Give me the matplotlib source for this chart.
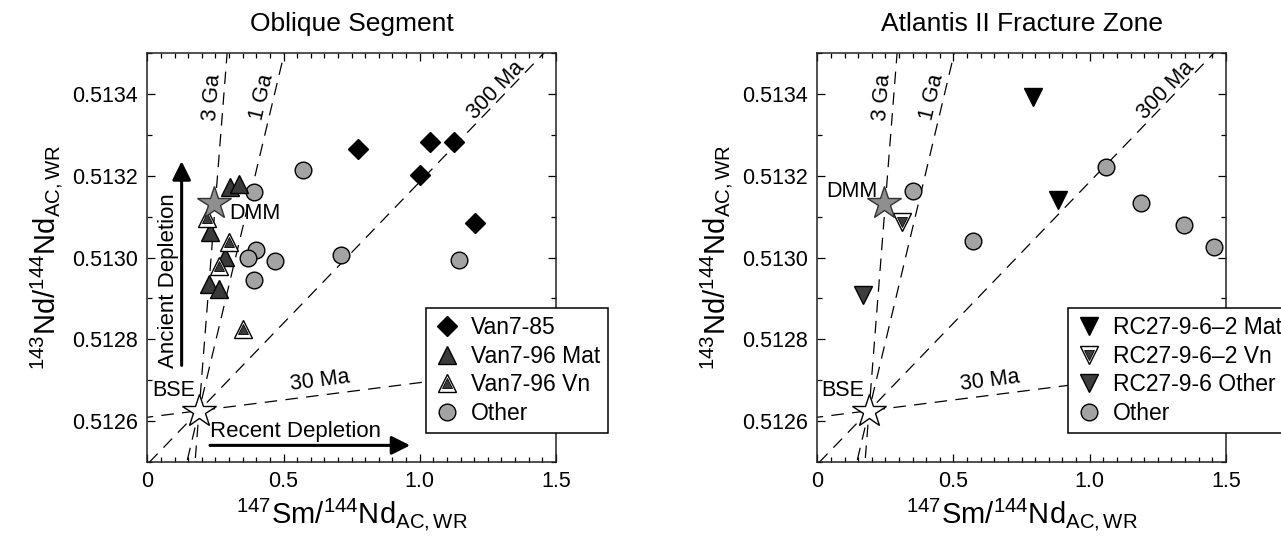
import numpy as np
import matplotlib
matplotlib.use('Agg')
import matplotlib.pyplot as plt
from matplotlib.legend_handler import HandlerTuple
from matplotlib.ticker import MultipleLocator, FuncFormatter

plt.rcParams['font.family'] = ['Liberation Sans', 'DejaVu Sans']
plt.rcParams['mathtext.fontset'] = 'custom'
plt.rcParams['mathtext.rm'] = 'Liberation Sans'
plt.rcParams['mathtext.it'] = 'Liberation Sans:italic'
plt.rcParams['lines.scale_dashes'] = False

# reference reservoirs (147Sm/144Nd, 143Nd/144Nd)
bse = (0.19, 0.512625)
dmm = (0.245, 0.513134)

# depletion isochrons through BSE
iso_labels = ['3 Ga', '1 Ga', '300 Ma', '30 Ma']
iso_slopes = [0.00851, 0.00280, 0.000692, 0.0000848]
iso_text_x = [0.237, 0.421, 1.281, 0.633]
iso_text_y = [0.513393, 0.513393, 0.51341, 0.512699]

# Oblique Segment
van785_x = [0.775, 1.038, 1.126, 1.001, 1.203]
van785_y = [0.513265, 0.513284, 0.513284, 0.513202, 0.513085]
van796mat_x = [0.303, 0.337, 0.230, 0.285, 0.226, 0.263]
van796mat_y = [0.513174, 0.513180, 0.513063, 0.513002, 0.512936, 0.512924]
van796vn_x = [0.218, 0.300, 0.263, 0.352]
van796vn_y = [0.513096, 0.513037, 0.512979, 0.512824]
obl_other_x = [0.392, 0.570, 0.398, 0.371, 0.469, 0.392, 0.711, 1.144]
obl_other_y = [0.513161, 0.513214, 0.513018, 0.512999, 0.512991, 0.512945, 0.513006, 0.512994]

# Atlantis II Fracture Zone
rcmat_x = [0.793, 0.882]
rcmat_y = [0.513393, 0.513142]
rcvn_x = [0.310]
rcvn_y = [0.513088]
rcoth_x = [0.169]
rcoth_y = [0.512908]
aii_other_x = [0.352, 0.570, 1.060, 1.188, 1.347, 1.457]
aii_other_y = [0.513164, 0.513041, 0.513223, 0.513133, 0.513080, 0.513025]

FS = 15.5
LEG_FS = 16.5
fig = plt.figure(figsize=(12.81, 5.40), dpi=100)
ax1 = fig.add_axes([0.115, 0.145, 0.319, 0.756])
ax2 = fig.add_axes([0.638, 0.145, 0.319, 0.756])

circle = dict(marker='o', ms=12, mfc='#a3a3a3', mec='k', mew=1.0, ls='none', zorder=4)


def vein_handles(ax, x, y, marker):
    outer = ax.plot(x, y, marker=marker, ms=13.5, mfc='white', mec='k', mew=1.0, ls='none', zorder=5)[0]
    inner = ax.plot(x, y, marker=marker, ms=7.5, mfc='#3a3a3a', mec='k', mew=0.6, ls='none', zorder=6)[0]
    return (outer, inner)


def base(ax, title):
    xs = np.array([-0.1, 1.6])
    for lab, s, tx, ty in zip(iso_labels, iso_slopes, iso_text_x, iso_text_y):
        ax.plot(xs, bse[1] + s * (xs - bse[0]), color='k', lw=0.9, dashes=(9, 6), zorder=1)
        ax.text(tx, ty, lab, fontsize=FS, rotation=np.degrees(np.arctan(s)),
                transform_rotates_text=True, rotation_mode='anchor',
                ha='center', va='center', zorder=2)
    ax.plot(*dmm, marker='*', ms=25, mfc='#8f8f8f', mec='#333333', mew=1.0, ls='none', zorder=7)
    ax.plot(*bse, marker='*', ms=25, mfc='white', mec='k', mew=1.0, ls='none', zorder=7)
    ax.text(0.095, 0.512675, 'BSE', fontsize=FS, ha='center', va='center', zorder=8)

    ax.set_xlim(0, 1.5)
    ax.set_ylim(0.5125, 0.5135)
    ax.xaxis.set_major_locator(MultipleLocator(0.5))
    ax.xaxis.set_minor_locator(MultipleLocator(0.05))
    ax.yaxis.set_major_locator(MultipleLocator(0.0002))
    ax.yaxis.set_minor_locator(MultipleLocator(0.0001))
    ax.xaxis.set_major_formatter(FuncFormatter(lambda v, p: '0' if abs(v) < 1e-9 else f'{v:.1f}'))
    ax.yaxis.set_major_formatter(FuncFormatter(lambda v, p: f'{v:.4f}'))
    ax.tick_params(which='both', direction='in', top=True, right=True, labelsize=FS, pad=7)
    ax.tick_params(which='major', length=5.5, width=0.9)
    ax.tick_params(which='minor', length=3.5, width=0.9)
    for sp in ax.spines.values():
        sp.set_linewidth(1.1)
        sp.set_color('#222222')
    ax.set_title(title, fontsize=19, pad=16)
    ax.set_xlabel(r'$^{147}$Sm/$^{144}$Nd$_{\mathrm{AC,WR}}$', fontsize=21, labelpad=3)
    ax.set_ylabel(r'$^{143}$Nd/$^{144}$Nd$_{\mathrm{AC,WR}}$', fontsize=21, labelpad=5)


def add_legend(ax, handles, labels, x0):
    leg = ax.legend(handles, labels,
                    handler_map={tuple: HandlerTuple(ndivide=1, pad=0)},
                    loc='lower left', bbox_to_anchor=(x0, 0.070), fontsize=LEG_FS,
                    frameon=True, fancybox=False, edgecolor='k', framealpha=1,
                    borderpad=0.35, handlelength=1.1, handletextpad=0.5, labelspacing=0.25,
                    borderaxespad=0)
    leg.get_frame().set_linewidth(1.1)
    leg.set_zorder(10)
    return leg


# left panel
base(ax1, 'Oblique Segment')
h1 = ax1.plot(van785_x, van785_y, marker='D', ms=10, mfc='k', mec='k', ls='none', zorder=5)[0]
h2 = ax1.plot(van796mat_x, van796mat_y, marker='^', ms=13.5, mfc='#3a3a3a', mec='k', mew=1.0, ls='none', zorder=5)[0]
h3 = vein_handles(ax1, van796vn_x, van796vn_y, '^')
h4 = ax1.plot(obl_other_x, obl_other_y, **circle)[0]
ax1.text(0.395, 0.513108, 'DMM', fontsize=FS, ha='center', va='center', zorder=8)

ax1.annotate('', xy=(0.126, 0.513236), xytext=(0.126, 0.512736),
             arrowprops=dict(arrowstyle='-|>', lw=2.2, color='k', mutation_scale=28, shrinkA=0, shrinkB=0))
ax1.text(0.077, 0.512944, 'Ancient Depletion', fontsize=16, rotation=90, ha='center', va='center')
ax1.annotate('', xy=(0.965, 0.51254), xytext=(0.230, 0.51254),
             arrowprops=dict(arrowstyle='-|>', lw=2.2, color='k', mutation_scale=28, shrinkA=0, shrinkB=0))
ax1.text(0.545, 0.512573, 'Recent Depletion', fontsize=16, ha='center', va='center')

add_legend(ax1, [h1, h2, h3, h4], ['Van7-85', 'Van7-96 Mat', 'Van7-96 Vn', 'Other'], 0.682)

# right panel
base(ax2, 'Atlantis II Fracture Zone')
g1 = ax2.plot(rcmat_x, rcmat_y, marker='v', ms=13.5, mfc='k', mec='k', ls='none', zorder=5)[0]
g2 = vein_handles(ax2, rcvn_x, rcvn_y, 'v')
g3 = ax2.plot(rcoth_x, rcoth_y, marker='v', ms=13.5, mfc='#3e3e3e', mec='k', mew=1.0, ls='none', zorder=5)[0]
g4 = ax2.plot(aii_other_x, aii_other_y, **circle)[0]
ax2.text(0.126, 0.513161, 'DMM', fontsize=FS, ha='center', va='center', zorder=8)

add_legend(ax2, [g1, g2, g3, g4],
           ['RC27-9-6\u20132 Mat', 'RC27-9-6\u20132 Vn', 'RC27-9-6 Other', 'Other'], 0.614)

fig.savefig('out.png', dpi=100)
